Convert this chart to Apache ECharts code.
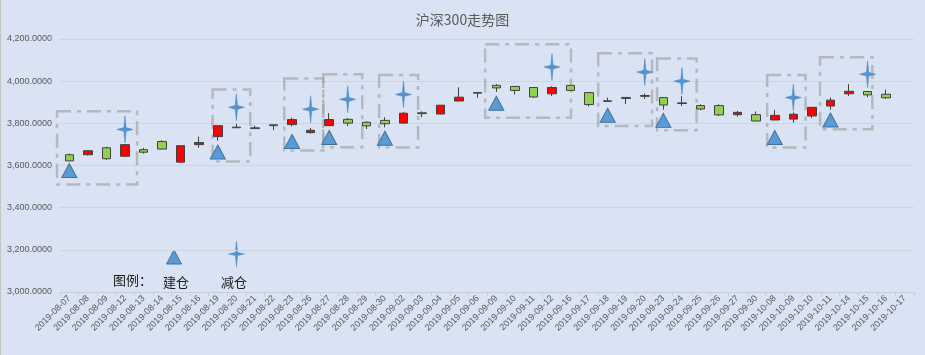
<!DOCTYPE html>
<html>
<head>
<meta charset="utf-8">
<script src="https://cdn.jsdelivr.net/npm/echarts@6/dist/echarts.min.js"></script>
<style>
html,body{margin:0;padding:0;background:#dae3f3;}
#c{width:925px;height:355px;}
</style>
</head>
<body>
<div id="c"></div>
<script>
const titleText = '沪深300走势图';
const categories = ['2019-08-07','2019-08-08','2019-08-09','2019-08-12','2019-08-13','2019-08-14','2019-08-15','2019-08-16','2019-08-19','2019-08-20','2019-08-21','2019-08-22','2019-08-23','2019-08-26','2019-08-27','2019-08-28','2019-08-29','2019-08-30','2019-09-02','2019-09-03','2019-09-04','2019-09-05','2019-09-06','2019-09-09','2019-09-10','2019-09-11','2019-09-12','2019-09-16','2019-09-17','2019-09-18','2019-09-19','2019-09-20','2019-09-23','2019-09-24','2019-09-25','2019-09-26','2019-09-27','2019-09-30','2019-10-08','2019-10-09','2019-10-10','2019-10-11','2019-10-14','2019-10-15','2019-10-16','2019-10-17'];
const openV  = [3651,3651,3684,3644,3675,3714,3616,3699,3737,3782,3779,3793,3794,3756,3789,3819,3805,3814,3801,3850,3844,3906,3946,3980,3975,3970,3940,3980,3946,3907,3923,3932,3922,3897,3884,3884,3841,3841,3816,3820,3835,3882,3940,3951,3938,null];
const closeV = [3622,3670,3632,3699,3663,3678,3694,3709,3789,3779,3775,3789,3818,3767,3818,3801,3788,3798,3848,3846,3886,3924,3943,3968,3956,3925,3970,3956,3889,3904,3918,3928,3887,3894,3868,3840,3852,3811,3838,3843,3876,3910,3952,3935,3921,null];
const lowV   = [3620,3648,3627,3643,3656,3677,3612,3684,3718,3778,3774,3768,3786,3751,3788,3787,3773,3781,3797,3829,3843,3905,3922,3949,3937,3921,3930,3954,3880,3902,3892,3916,3865,3882,3862,3835,3832,3810,3815,3803,3825,3865,3930,3924,3916,null];
const highV  = [3657,3673,3689,3701,3684,3719,3695,3737,3790,3798,3789,3794,3827,3778,3848,3825,3810,3829,3854,3857,3887,3971,3948,3986,3976,3971,3976,3981,3947,3922,3924,3941,3923,3929,3890,3890,3859,3856,3862,3852,3877,3922,3986,3952,3960,null];

// 建仓 (build position) markers
const buildDates  = ['2019-08-07','2019-08-19','2019-08-23','2019-08-27','2019-08-30','2019-09-09','2019-09-18','2019-09-23','2019-10-08','2019-10-11'];
const buildValues = [3576,3664,3714,3733,3729,3895,3838,3814,3733,3816];
// 减仓 (reduce position) markers
const reduceDates  = ['2019-08-12','2019-08-20','2019-08-26','2019-08-28','2019-09-02','2019-09-12','2019-09-20','2019-09-24','2019-10-09','2019-10-15'];
const reduceValues = [3771,3876,3867,3914,3937,4067,4043,4000,3922,4033];

// dashed boxes: category-index extents and value extents
const boxStart = [-0.66,7.72,11.58,13.68,16.69,22.40,28.49,31.66,37.59,40.44];
const boxEnd   = [3.65,9.75,13.68,15.78,18.79,27.02,31.39,33.79,39.66,43.26];
const boxLow   = [3510,3619,3671,3687,3685,3827,3787,3767,3685,3772];
const boxHigh  = [3857,3960,4013,4033,4029,4175,4132,4108,4029,4113];

const yMin = 3000, yMax = 4200, yStep = 200;
const legendLabels = ['图例：','建仓','减仓'];

const starPath = 'path://M50,0 L57,43 L100,50 L57,57 L50,100 L43,57 L0,50 L43,43 Z';

const candleData = categories.map((d,i) => openV[i]==null ? '-' : [openV[i], closeV[i], lowV[i], highV[i]]);
const buildData = buildDates.map((d,i)=>[d, buildValues[i]]);
const reduceData = reduceDates.map((d,i)=>[d, reduceValues[i]]);
const boxData = boxStart.map((s,i)=>[s, boxEnd[i], boxLow[i], boxHigh[i]]);

function fmt(v){
  const s = Math.round(v).toString();
  const withComma = s.replace(/\B(?=(\d{3})+(?!\d))/g, ',');
  return withComma + '.0000';
}

const chart = echarts.init(document.getElementById('c'), null, {renderer:'canvas'});
const font = "'Liberation Sans', 'Noto Sans CJK SC', sans-serif";
chart.setOption({
  backgroundColor: '#dae3f3',
  animation: false,
  title: {
    text: titleText, left: 'center', top: 8,
    textStyle: {fontFamily: "'Noto Sans CJK SC', sans-serif", fontSize: 14, fontWeight: 'normal', color: '#595959'}
  },
  grid: {left: 60, right: 11, top: 39, bottom: 63, containLabel: false},
  xAxis: [{
    type: 'category', data: categories, boundaryGap: true,
    axisLine: {lineStyle: {color: '#c9cfd9', width: 1}},
    axisTick: {show: true, alignWithLabel: false, length: 4, lineStyle: {color: '#c9cfd9'}},
    axisLabel: {interval: 0, rotate: 45, margin: 5, fontSize: 9, color: '#595959', fontFamily: font},
    splitLine: {show: false}
  },{
    type: 'value', min: -0.5, max: categories.length - 0.5, show: false
  }],
  yAxis: {
    type: 'value', min: yMin, max: yMax, interval: yStep,
    axisLine: {show: false}, axisTick: {show: false},
    axisLabel: {formatter: fmt, fontSize: 9, color: '#595959', fontFamily: font, margin: 8},
    splitLine: {lineStyle: {color: '#cfd5df', width: 1}}
  },
  series: [
    {
      type: 'custom', xAxisIndex: 1, z: 1,
      data: boxData,
      renderItem: function(params, api){
        const p0 = api.coord([api.value(0), api.value(3)]);
        const p1 = api.coord([api.value(1), api.value(2)]);
        return {
          type: 'rect',
          shape: {x: p0[0], y: p0[1], width: p1[0]-p0[0], height: p1[1]-p0[1]},
          style: {fill: 'none', stroke: 'rgba(165,165,165,0.7)', lineWidth: 2.5, lineDash: [14,6,4,6]}
        };
      }
    },
    {
      type: 'candlestick', z: 3,
      data: candleData, barWidth: 9,
      itemStyle: {color: '#ff0000', color0: '#92d050', borderColor: '#404040', borderColor0: '#404040', borderWidth: 1}
    },
    {
      type: 'scatter', z: 4, data: buildData,
      symbol: 'triangle', symbolSize: [15, 14],
      itemStyle: {color: '#5b9bd5', borderColor: '#41719c', borderWidth: 1, opacity: 1}
    },
    {
      type: 'scatter', z: 4, data: reduceData,
      symbol: starPath, symbolSize: [16, 27],
      itemStyle: {color: '#5593d0', borderColor: '#4a86c0', borderWidth: 0.5, opacity: 1}
    }
  ],
  graphic: [
    {type: 'line', shape: {x1: 0.5, y1: 0, x2: 0.5, y2: 355}, style: {stroke: '#c4c4c4', lineWidth: 1}},
    {type: 'text', left: 113, top: 274, style: {text: legendLabels[0], font: "13px 'Noto Sans CJK SC'", fill: '#1a1a1a'}},
    {type: 'text', x: 176, y: 282, style: {text: legendLabels[1], font: "13px 'Noto Sans CJK SC'", fill: '#1a1a1a', align: 'center', verticalAlign: 'middle'}},
    {type: 'text', x: 234, y: 282, style: {text: legendLabels[2], font: "13px 'Noto Sans CJK SC'", fill: '#1a1a1a', align: 'center', verticalAlign: 'middle'}},
    {type: 'polygon', shape: {points: [[174,250],[181.5,264],[166.5,264]]}, style: {fill: '#5b9bd5', stroke: '#41719c', lineWidth: 1}},
    {type: 'polygon', shape: {points: [[236.5,241],[237.6,252.4],[244.5,254],[237.6,255.6],[236.5,267],[235.4,255.6],[228.5,254],[235.4,252.4]]}, style: {fill: '#5593d0', stroke: '#4a86c0', lineWidth: 0.5}}
  ]
});
</script>
</body>
</html>
